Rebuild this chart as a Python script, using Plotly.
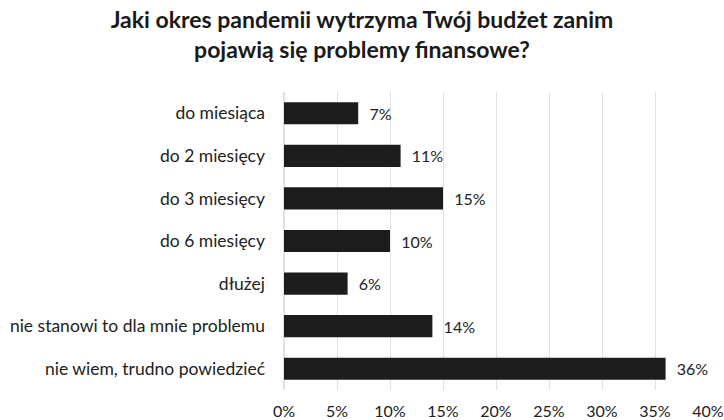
import plotly.graph_objects as go

categories = ["do miesiąca", "do 2 miesięcy", "do 3 miesięcy", "do 6 miesięcy",
              "dłużej", "nie stanowi to dla mnie problemu", "nie wiem, trudno powiedzieć"]
values = [7, 11, 15, 10, 6, 14, 36]
tick_vals = [0, 5, 10, 15, 20, 25, 30, 35, 40]
tick_text = [f"{v}%" for v in tick_vals]
title_text = "Jaki okres pandemii wytrzyma Twój budżet zanim<br>pojawią się problemy finansowe?"

FONT = "Lato, Open Sans, sans-serif"

fig = go.Figure(go.Bar(
    x=values, y=categories, orientation="h",
    marker=dict(color="#1c1c1c", line=dict(width=0)),
    width=0.52,
    text=[f"  {v}%" for v in values],
    textposition="outside",
    textfont=dict(family=FONT, size=16, color="#222222"),
    cliponaxis=False,
))

fig.update_layout(
    width=724, height=420,
    paper_bgcolor="white", plot_bgcolor="white",
    margin=dict(l=284, r=16, t=92, b=30),
    title=dict(text=title_text, x=0.5, xanchor="center", y=0.934, yanchor="middle",
               yref="container",
               font=dict(family=FONT, size=23, color="#1a1a1a", weight="bold")),
    showlegend=False,
    font=dict(family=FONT, size=16, color="#222222"),
)
fig.update_xaxes(range=[0, 40], tickvals=tick_vals, ticktext=tick_text,
                 showgrid=True, gridcolor="#e2e2e2", gridwidth=1,
                 zeroline=True, zerolinecolor="#e2e2e2",
                 showline=False, ticks="", ticklabelstandoff=10, automargin=False,
                 tickfont=dict(size=16, color="#222222"))
fig.update_yaxes(autorange="reversed", showgrid=False, showline=False, ticks="",
                 ticklabelstandoff=18, automargin=False,
                 tickfont=dict(size=17.5, color="#222222"))

fig.write_html("out.html", config={"displayModeBar": False},
               post_script="document.body.style.margin='0';")
